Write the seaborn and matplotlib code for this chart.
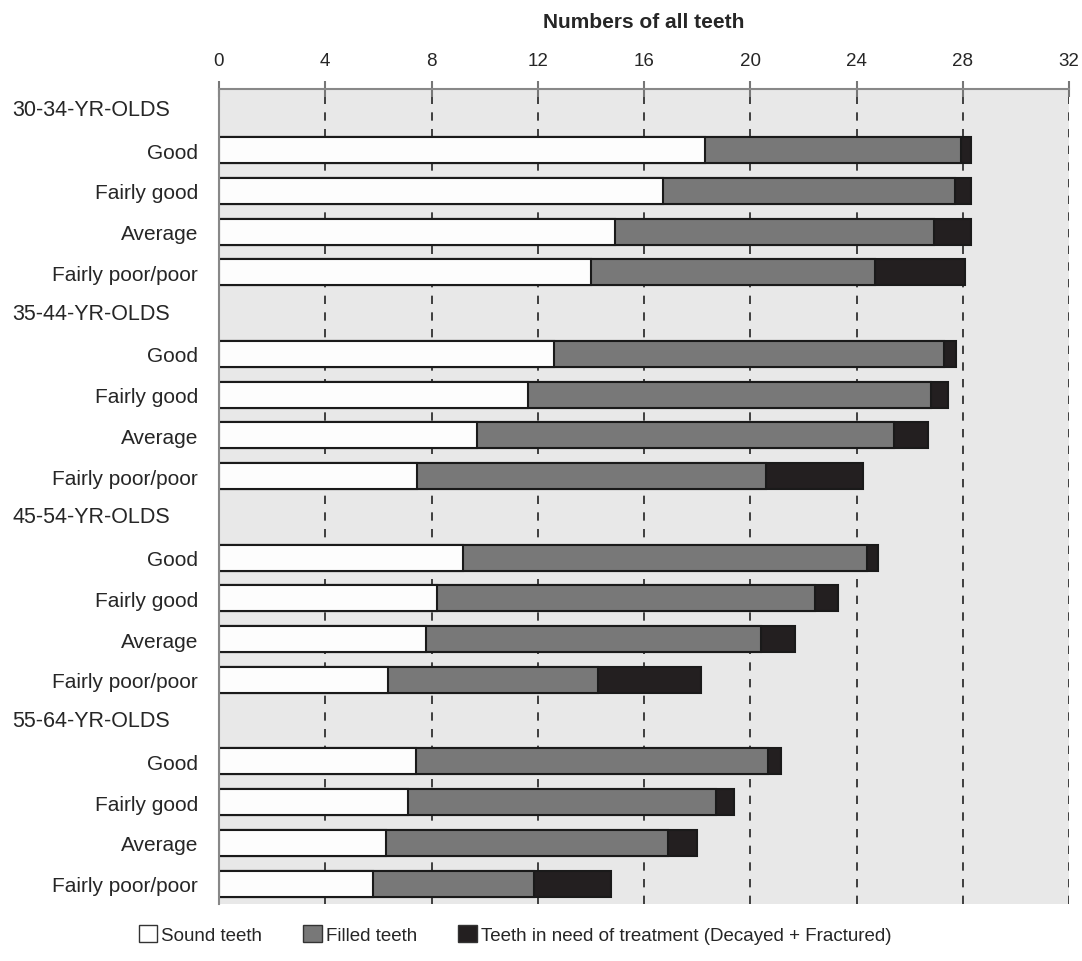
import numpy as np
import pandas as pd
import matplotlib
matplotlib.use("Agg")
import matplotlib.pyplot as plt
import seaborn as sns
from matplotlib.patches import Patch

# values
age_groups = ["30-34-YR-OLDS", "35-44-YR-OLDS", "45-54-YR-OLDS", "55-64-YR-OLDS"]
ratings = ["Good", "Fairly good", "Average", "Fairly poor/poor"]
sound = [18.3, 16.7, 14.9, 14.0,
         12.6, 11.65, 9.7, 7.45,
         9.2, 8.2, 7.8, 6.35,
         7.4, 7.1, 6.3, 5.8]
filled = [9.65, 11.0, 12.0, 10.7,
          14.7, 15.15, 15.7, 13.15,
          15.2, 14.25, 12.6, 7.9,
          13.25, 11.6, 10.6, 6.05]
treatment = [0.35, 0.6, 1.4, 3.4,
             0.45, 0.65, 1.3, 3.65,
             0.4, 0.85, 1.3, 3.9,
             0.5, 0.7, 1.1, 2.9]

c_sound = "#fdfdfd"
c_filled = "#787878"
c_treat = "#231f20"

rows = []
order = []
for g, grp in enumerate(age_groups):
    order.append(grp)
    for r, rat in enumerate(ratings):
        i = g * 4 + r
        key = grp + "|" + rat
        order.append(key)
        rows.append({"key": key, "sound": sound[i],
                     "sound_filled": sound[i] + filled[i],
                     "total": sound[i] + filled[i] + treatment[i]})
df = pd.DataFrame(rows)

sns.set_style("white")
plt.rcParams["font.family"] = ["Liberation Sans", "DejaVu Sans"]

fig = plt.figure(figsize=(10.82, 9.62), dpi=100)
ax = fig.add_axes([0.2024, 0.0593, 0.7856, 0.8471])
ax.set_facecolor("#e8e8e8")

# stacked bars: draw cumulative totals back to front
bar_kw = dict(orient="h", order=order, edgecolor="#1a1a1a", linewidth=1.5, width=0.64, ax=ax)
sns.barplot(data=df, x="total", y="key", color=c_treat, saturation=1, **bar_kw)
sns.barplot(data=df, x="sound_filled", y="key", color=c_filled, saturation=1, **bar_kw)
sns.barplot(data=df, x="sound", y="key", color=c_sound, saturation=1, **bar_kw)

ax.set_xlim(0, 32)
ax.set_ylim(len(order) - 0.5, -0.5)

# x axis on top
ax.xaxis.tick_top()
ax.xaxis.set_label_position("top")
ax.set_xticks(np.arange(0, 33, 4))
ax.tick_params(axis="x", which="major", direction="inout", length=11, width=1.5,
               color="#777777", labelsize=13.5, pad=9)
ax.set_xlabel("Numbers of all teeth", fontsize=15, fontweight="bold", labelpad=18)

ax.xaxis.grid(True, color="#222222", linestyle=(0, (5, 5)), linewidth=1.2)
ax.set_axisbelow(True)
ax.get_xgridlines()[0].set_visible(False)

# y labels
ax.set_yticks(range(len(order)))
labels = ["" if "|" not in k else k.split("|")[1] for k in order]
ax.set_yticklabels(labels, fontsize=15)
ax.tick_params(axis="y", which="major", length=0, pad=15)
ax.set_yticks(np.arange(-0.5, len(order), 1)[1:], minor=True)
ax.tick_params(axis="y", which="minor", direction="inout", length=9, color="#888888", width=1.5)
ax.set_ylabel("")

for i, k in enumerate(order):
    if "|" not in k:
        ax.text(-0.2435, i, k, transform=ax.get_yaxis_transform(),
                ha="left", va="center", fontsize=15.5)

for s in ["right", "bottom"]:
    ax.spines[s].set_visible(False)
for s in ["top", "left"]:
    ax.spines[s].set_color("#888888")
    ax.spines[s].set_linewidth(1.5)

handles = [Patch(facecolor="white", edgecolor="#333333", label="Sound teeth"),
           Patch(facecolor=c_filled, edgecolor="#333333", label="Filled teeth"),
           Patch(facecolor=c_treat, edgecolor="#333333",
                 label="Teeth in need of treatment (Decayed + Fractured)")]
fig.legend(handles=handles, loc="lower center", bbox_to_anchor=(0.476, 0.0),
           ncol=3, frameon=False, fontsize=13.5, handlelength=1.0, handleheight=1.0,
           handletextpad=0.2, columnspacing=2.2)

fig.savefig("out.png", dpi=100)
